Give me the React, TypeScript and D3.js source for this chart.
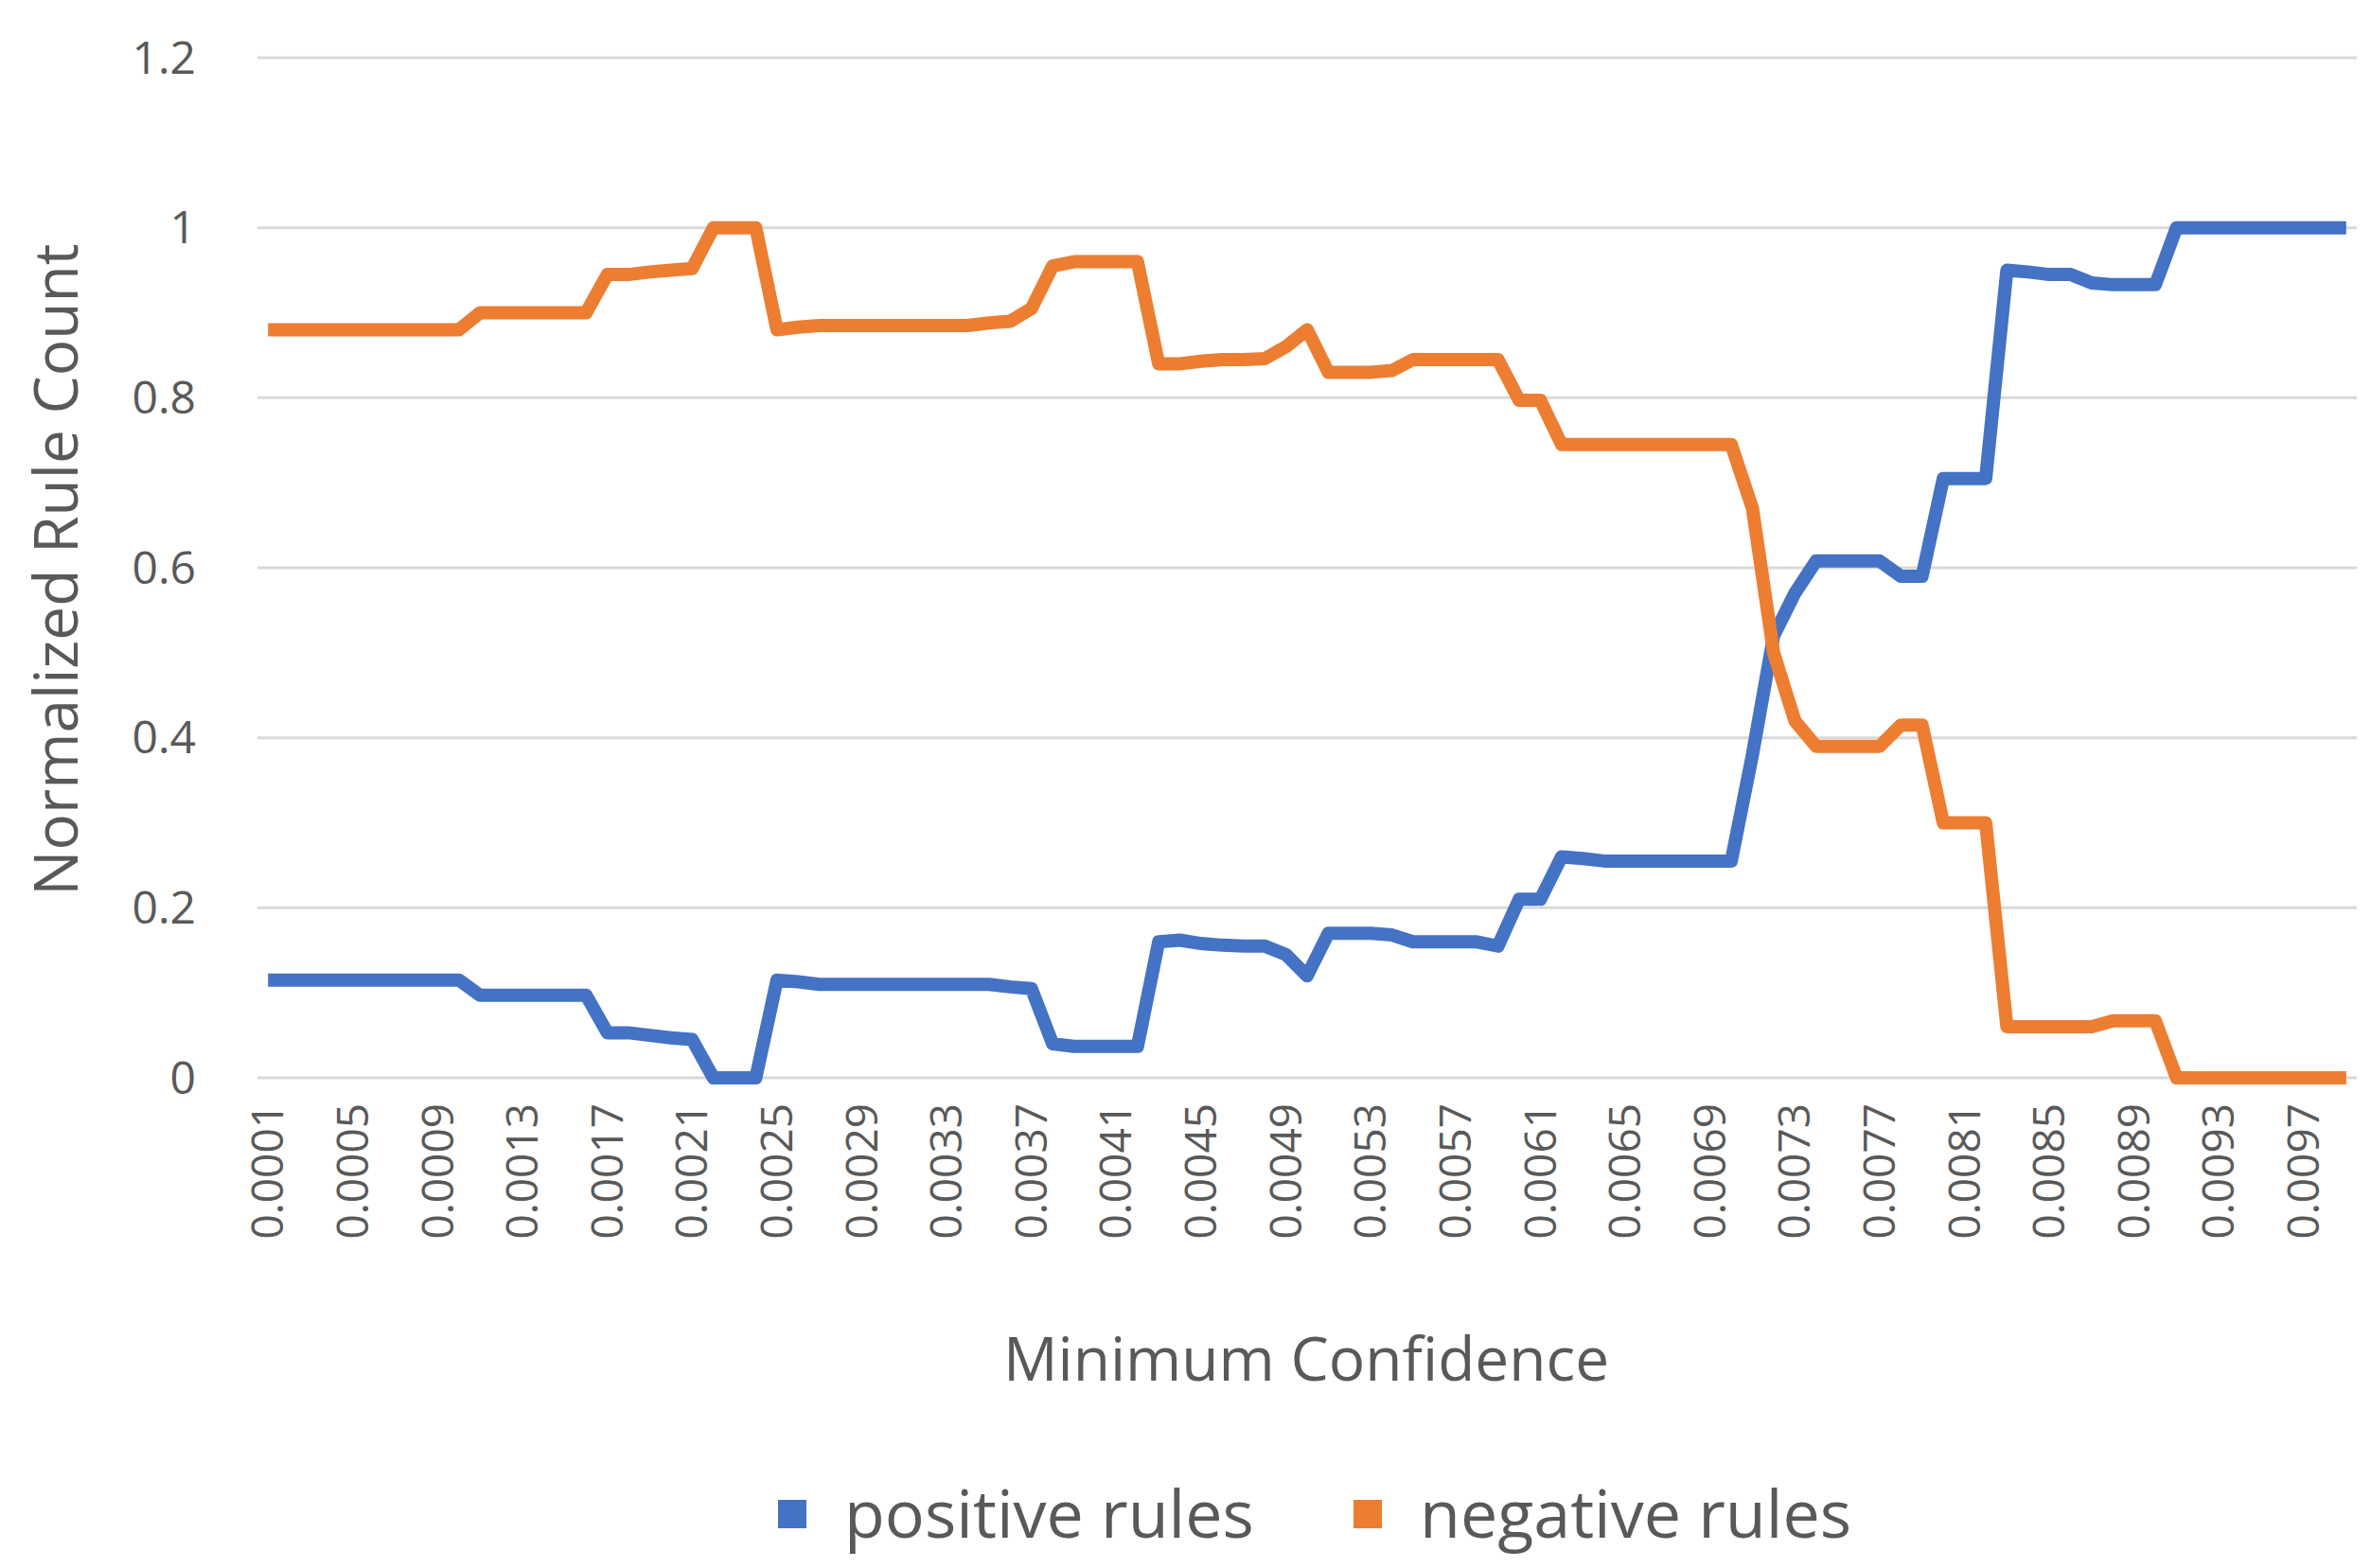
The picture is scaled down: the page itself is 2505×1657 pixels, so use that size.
import React, { useEffect, useRef } from "react";
import * as d3 from "d3";

const confidence: number[] = Array.from({ length: 99 }, (_, i) => +((i + 1) * 0.0001).toFixed(4));

const positiveRules: number[] = [
  0.115, 0.115, 0.115, 0.115, 0.115, 0.115, 0.115, 0.115, 0.115, 0.115,
  0.097, 0.097, 0.097, 0.097, 0.097, 0.097, 0.053, 0.053, 0.05, 0.047,
  0.045, 0, 0, 0, 0.115, 0.113, 0.11, 0.11, 0.11, 0.11,
  0.11, 0.11, 0.11, 0.11, 0.11, 0.107, 0.105, 0.04, 0.037, 0.037,
  0.037, 0.037, 0.16, 0.162, 0.158, 0.156, 0.155, 0.155, 0.145, 0.12,
  0.17, 0.17, 0.17, 0.168, 0.16, 0.16, 0.16, 0.16, 0.155, 0.21,
  0.21, 0.26, 0.258, 0.255, 0.255, 0.255, 0.255, 0.255, 0.255, 0.255,
  0.38, 0.52, 0.57, 0.608, 0.608, 0.608, 0.608, 0.59, 0.59, 0.705,
  0.705, 0.705, 0.95, 0.948, 0.945, 0.945, 0.935, 0.933, 0.933, 0.933,
  1, 1, 1, 1, 1, 1, 1, 1, 1,
];

const negativeRules: number[] = [
  0.88, 0.88, 0.88, 0.88, 0.88, 0.88, 0.88, 0.88, 0.88, 0.88,
  0.9, 0.9, 0.9, 0.9, 0.9, 0.9, 0.945, 0.945, 0.948, 0.95,
  0.952, 1, 1, 1, 0.88, 0.883, 0.885, 0.885, 0.885, 0.885,
  0.885, 0.885, 0.885, 0.885, 0.888, 0.89, 0.905, 0.955, 0.96, 0.96,
  0.96, 0.96, 0.84, 0.84, 0.843, 0.845, 0.845, 0.846, 0.86, 0.88,
  0.83, 0.83, 0.83, 0.832, 0.845, 0.845, 0.845, 0.845, 0.845, 0.797,
  0.797, 0.745, 0.745, 0.745, 0.745, 0.745, 0.745, 0.745, 0.745, 0.745,
  0.67, 0.5, 0.42, 0.39, 0.39, 0.39, 0.39, 0.415, 0.415, 0.3,
  0.3, 0.3, 0.06, 0.06, 0.06, 0.06, 0.06, 0.067, 0.067, 0.067,
  0, 0, 0, 0, 0, 0, 0, 0, 0,
];

const yTicks = [0, 0.2, 0.4, 0.6, 0.8, 1, 1.2];

const series = [
  { name: "positive rules", values: positiveRules, color: "#4472C4" },
  { name: "negative rules", values: negativeRules, color: "#ED7D31" },
];

export default function App() {
  const svgRef = useRef<SVGSVGElement>(null);

  useEffect(() => {
    document.body.style.margin = "0";
    const svg = d3.select(svgRef.current);
    svg.selectAll("*").remove();

    const font = "'Open Sans', 'Noto Sans', sans-serif";
    const left = 272, right = 2490, top = 61, bottom = 1139;

    const x = d3.scaleBand<number>().domain(confidence).range([left, right]);
    const y = d3.scaleLinear().domain([0, 1.2]).range([bottom, top]);
    const cx = (d: number) => x(d)! + x.bandwidth() / 2;

    // Grid
    svg.append("g")
      .selectAll("line")
      .data(yTicks)
      .join("line")
      .attr("x1", left)
      .attr("x2", right)
      .attr("y1", d => y(d))
      .attr("y2", d => y(d))
      .attr("stroke", "#d9d9d9")
      .attr("stroke-width", 3);

    // Y labels
    svg.append("g")
      .selectAll("text")
      .data(yTicks)
      .join("text")
      .attr("x", 207)
      .attr("y", d => y(d))
      .attr("dy", "0.35em")
      .attr("text-anchor", "end")
      .attr("font-family", font)
      .attr("font-size", 48)
      .attr("fill", "#595959")
      .text(d => String(d));

    // X labels
    svg.append("g")
      .selectAll("text")
      .data(confidence.filter((_, i) => i % 4 === 0))
      .join("text")
      .attr("transform", d => `translate(${cx(d)},1166) rotate(-90)`)
      .attr("dy", "0.35em")
      .attr("text-anchor", "end")
      .attr("font-family", font)
      .attr("font-size", 46)
      .attr("fill", "#595959")
      .text(d => d.toFixed(4));

    // Lines
    const line = d3.line<number>()
      .x((_, i) => cx(confidence[i]))
      .y(d => y(d));

    series.forEach(s => {
      svg.append("path")
        .datum(s.values)
        .attr("fill", "none")
        .attr("stroke", s.color)
        .attr("stroke-width", 14)
        .attr("stroke-linejoin", "round")
        .attr("d", line);
    });

    // Axis titles
    svg.append("text")
      .attr("x", 1380)
      .attr("y", 1437)
      .attr("dy", "0.35em")
      .attr("text-anchor", "middle")
      .attr("font-family", font)
      .attr("font-size", 64)
      .attr("fill", "#595959")
      .text("Minimum Confidence");

    svg.append("text")
      .attr("transform", "translate(60,602) rotate(-90)")
      .attr("dy", "0.35em")
      .attr("text-anchor", "middle")
      .attr("font-family", font)
      .attr("font-size", 64)
      .attr("fill", "#595959")
      .text("Normalized Rule Count");

    // Legend
    const legendX = [837, 1445];
    series.forEach((s, i) => {
      svg.append("rect")
        .attr("x", legendX[i] - 15)
        .attr("y", 1600 - 15)
        .attr("width", 30)
        .attr("height", 30)
        .attr("fill", s.color);
      svg.append("text")
        .attr("x", legendX[i] + 55)
        .attr("y", 1600)
        .attr("dy", "0.35em")
        .attr("font-family", font)
        .attr("font-size", 70)
        .attr("fill", "#595959")
        .text(s.name);
    });
  }, []);

  return <svg ref={svgRef} width={2505} height={1657} style={{ display: "block", background: "#fff" }} />;
}
